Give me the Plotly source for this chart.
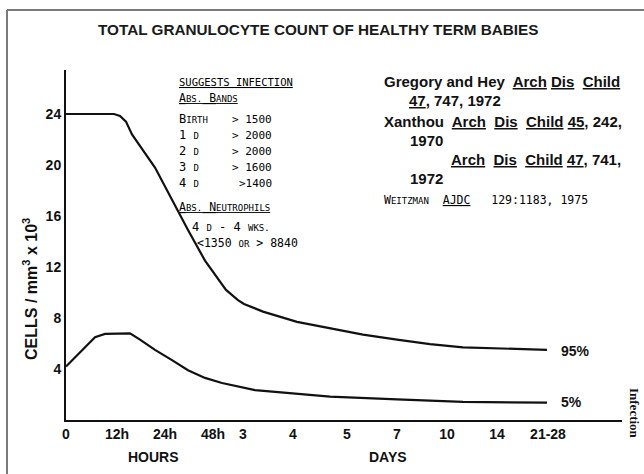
import plotly.graph_objects as go

# ---------------- data ----------------
tick_labels = ["0", "12h", "24h", "48h", "3", "4", "5", "7", "10", "14", "21-28"]
tick_pos = [0, 1.02, 1.98, 2.94, 3.54, 4.54, 5.62, 6.62, 7.62, 8.62, 9.64]

y_tick_vals = [4, 8, 12, 16, 20, 24]

p95_x = [0, 0.96, 1.08, 1.20, 1.32, 1.78, 2.44, 2.78, 3.20, 3.44, 3.56, 3.72, 3.94, 4.62, 5.28, 5.94, 6.62, 7.28, 7.94, 8.62, 9.62]
p95_y = [24.0, 24.0, 23.85, 23.4, 22.4, 19.8, 14.9, 12.5, 10.2, 9.4, 9.1, 8.85, 8.5, 7.7, 7.2, 6.7, 6.3, 5.95, 5.7, 5.6, 5.5]

p5_x = [0, 0.58, 0.78, 1.28, 1.48, 1.78, 2.12, 2.44, 2.78, 3.12, 3.78, 4.78, 5.28, 6.62, 7.94, 9.62]
p5_y = [4.2, 6.5, 6.75, 6.8, 6.3, 5.5, 4.7, 3.9, 3.3, 2.9, 2.35, 2.0, 1.83, 1.62, 1.42, 1.36]

title_text = "TOTAL GRANULOCYTE COUNT OF HEALTHY TERM BABIES"

# ---------------- layout helpers ----------------
W, H = 644, 474
L, R, T, B = 66, 22, 70, 54
PW, PH = W - L - R, H - T - B


def px(x):
    return (x - L) / PW


def py(y):
    return (H - B - y) / PH


INK = "#111111"
SANS = "Liberation Sans, Arial, sans-serif"
MONO = "DejaVu Sans Mono, monospace"


def sc(word, small=8):
    """small caps: first letter full size, rest small"""
    return word[0] + "<span style='font-size:%dpx'>%s</span>" % (small, word[1:])


fig = go.Figure()
for xs, ys in [(p95_x, p95_y), (p5_x, p5_y)]:
    fig.add_trace(go.Scatter(x=xs, y=ys, mode="lines",
                             line=dict(color=INK, width=2.2, shape="linear"),
                             hoverinfo="skip", showlegend=False))

ann = []


def add(text, x, y, size=14, family=SANS, xanchor="left", bold=False, angle=0, color=INK):
    ann.append(dict(text=("<b>%s</b>" % text) if bold else text, x=px(x), y=py(y),
                    xref="paper", yref="paper", showarrow=False, xanchor=xanchor,
                    yanchor="middle", textangle=angle,
                    font=dict(size=size, family=family, color=color)))


# title
add(title_text, 318, 30, size=15.3, xanchor="center", bold=True, color="#1a1a1a")

# y axis title
add("CELLS / mm<sup>3</sup> x 10<sup>3</sup>", 30, 289, size=16, xanchor="center", angle=-90, bold=True)

# x-axis group labels
add("HOURS", 153, 457, size=14, xanchor="center", bold=True)
add("DAYS", 388, 457, size=14, xanchor="center", bold=True)

# percent labels
add("95%", 559, 351, size=14, bold=True)
add("5%", 559, 402, size=14, bold=True)

# Infection (rotated)
add("Infection", 635, 413, size=13, family="Liberation Serif, serif", xanchor="center",
    bold=True, angle=90)

# typewriter block
add("<u>SUGGESTS INFECTION</u>", 177, 82, size=10.5, family=MONO, color="#000")
add("<u>" + sc("ABS.", 9) + " " + sc("BANDS", 9) + "</u>", 177, 98, size=11.5, family=MONO, color="#000")
band_labels = [sc("BIRTH", 9), "1 <span style='font-size:9px'>D</span>", "2 <span style='font-size:9px'>D</span>",
               "3 <span style='font-size:9px'>D</span>", "4 <span style='font-size:9px'>D</span>"]
band_vals = ["> 1500", "> 2000", "> 2000", "> 1600", ">1400"]
for i, (lab, val) in enumerate(zip(band_labels, band_vals)):
    yy = 119 + i * 16
    add(lab, 177, yy, size=12, family=MONO, color="#000")
    add(val, 274, yy, size=11, family=MONO, xanchor="right", color="#000")
add("<u>" + sc("ABS.", 9) + " " + sc("NEUTROPHILS", 9) + "</u>", 177, 207, size=11.5, family=MONO, color="#000")
add("4 <span style='font-size:9px'>D</span> - 4 <span style='font-size:9px'>WKS.</span>", 190, 227,
    size=12, family=MONO, color="#000")
add("<1350 <span style='font-size:9px'>OR</span> > 8840", 195, 243, size=11.5, family=MONO, color="#000")

# references block
add("Gregory and Hey  <u>Arch</u> <u>Dis</u>  <u>Child</u>", 382, 82, size=15, bold=True)
add("<u>47</u>, 747, 1972", 407, 100, size=15, bold=True)
add("Xanthou  <u>Arch</u>  <u>Dis</u>  <u>Child</u> <u>45</u>, 242,", 382, 121, size=15, bold=True)
add("1970", 408, 140, size=15, bold=True)
add("<u>Arch</u>  <u>Dis</u>  <u>Child</u> <u>47</u>, 741,", 449, 159, size=15, bold=True)
add("1972", 408, 178, size=15, bold=True)
add("W<span style='font-size:9px'>EITZMAN</span>  <u>AJDC</u>   129:1183, 1975", 382, 200, size=11.5,
    family=MONO, color="#000")

# frame border (scan edge)
shapes = [
    dict(type="line", xref="paper", yref="paper", x0=px(7), x1=px(650), y0=py(10), y1=py(10),
         line=dict(color="#7a7a7a", width=2)),
    dict(type="line", xref="paper", yref="paper", x0=px(7), x1=px(7), y0=py(10), y1=py(480),
         line=dict(color="#7a7a7a", width=2)),
]

fig.update_layout(
    width=W, height=H,
    margin=dict(l=L, r=R, t=T, b=B, pad=0),
    paper_bgcolor="white", plot_bgcolor="white",
    showlegend=False,
    annotations=ann,
    shapes=shapes,
    xaxis=dict(range=[0, 11.12], showgrid=False, zeroline=False, showline=True,
               linecolor=INK, linewidth=2.4, tickmode="array", tickvals=tick_pos,
               ticktext=["<b>%s</b>" % t for t in tick_labels], ticks="",
               tickfont=dict(size=14, family=SANS, color=INK), fixedrange=True),
    yaxis=dict(range=[0, 27.45], showgrid=False, zeroline=False, showline=True,
               linecolor=INK, linewidth=2, tickmode="array", tickvals=y_tick_vals,
               ticktext=["<b>%d</b>" % v for v in y_tick_vals], ticks="",
               tickfont=dict(size=14, family=SANS, color=INK), fixedrange=True),
)

fig.write_html("out.html", config={"displayModeBar": False},
               post_script="document.body.style.margin='0';")
